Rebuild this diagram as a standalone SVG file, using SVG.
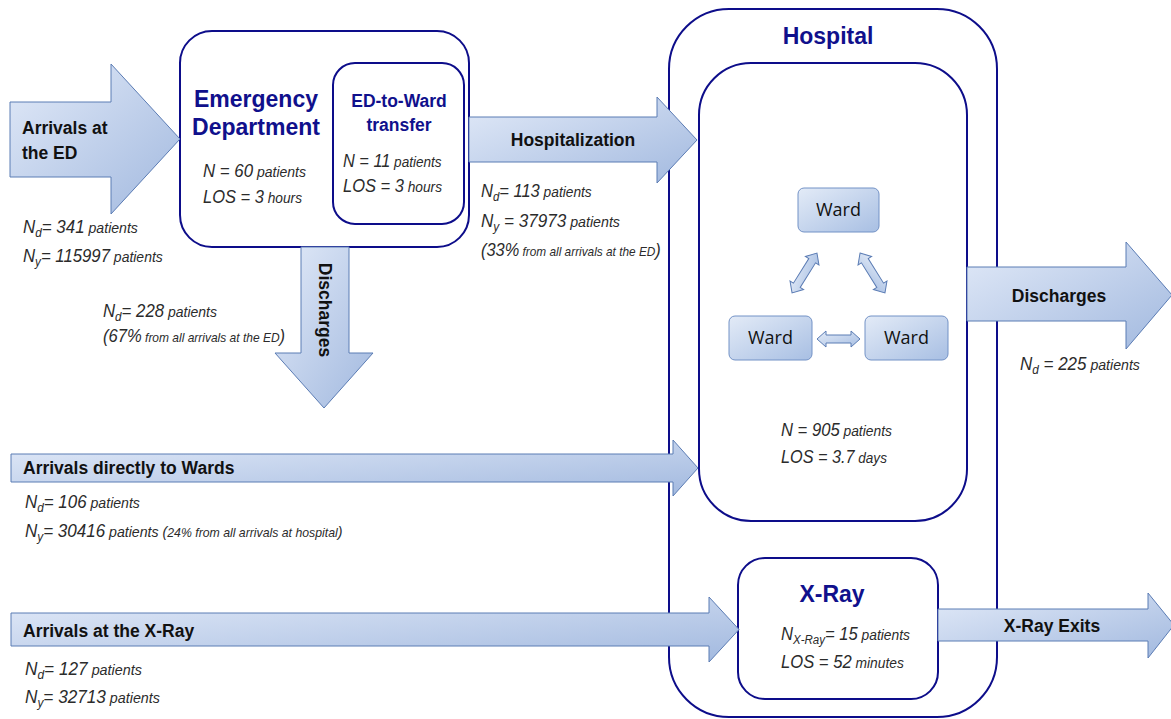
<svg xmlns="http://www.w3.org/2000/svg" width="1171" height="719" viewBox="0 0 1171 719">
<defs>
<linearGradient id="ag" x1="0" y1="0" x2="1" y2="1">
<stop offset="0" stop-color="#e2eaf8"/>
<stop offset="1" stop-color="#a2b9df"/>
</linearGradient>
<linearGradient id="wg" x1="0" y1="0" x2="1" y2="1">
<stop offset="0" stop-color="#e3ebf7"/>
<stop offset="1" stop-color="#a8bfe3"/>
</linearGradient>
<style>
.arrow{fill:url(#ag);stroke:#5b7cb4;stroke-width:1}
.box{fill:#fff;stroke:#0d0d8a;stroke-width:2}
.obox{fill:none;stroke:#0d0d8a;stroke-width:2}
.ward{fill:url(#wg);stroke:#7392c6;stroke-width:1}
.dbl{fill:url(#wg);stroke:#5b7cb4;stroke-width:1}
.lbl{font-family:"Liberation Sans",Arial,sans-serif;font-weight:bold;font-size:17.5px;fill:#111}
.ttl{font-family:"Liberation Sans",Arial,sans-serif;font-weight:bold;font-size:23px;fill:#10108c;text-anchor:middle}
.ttl2{font-family:"Liberation Sans",Arial,sans-serif;font-weight:bold;font-size:17.5px;fill:#10108c;text-anchor:middle}
.wt{font-family:"Open Sans","Liberation Sans",sans-serif;font-size:18px;fill:#111;text-anchor:middle}
.it{font-family:"Liberation Sans",Arial,sans-serif;font-style:italic;fill:#2b2b2b;font-size:18px}
.sm{font-size:15px}
.xs{font-size:13px}
.sub{font-size:12.5px}
</style>
</defs>

<g id="hospital">
<rect class="obox" x="669" y="9" width="328" height="708" rx="60"/>
<text class="ttl" x="828" y="44">Hospital</text>
</g>

<g id="wards-area">
<rect class="box" x="699" y="63" width="268" height="458" rx="52"/>
<text class="it" transform="translate(781,436) scale(0.923,1)">N = 905<tspan class="sm"> patients</tspan></text>
<text class="it" transform="translate(781,463) scale(0.903,1)">LOS = 3.7<tspan class="sm"> days</tspan></text>
</g>

<g id="ward-top">
<rect class="ward" x="798" y="188" width="81" height="44" rx="6"/>
<text class="wt" x="838.5" y="216">Ward</text>
</g>
<g id="ward-left">
<rect class="ward" x="729" y="316" width="83" height="44" rx="6"/>
<text class="wt" x="770.5" y="344">Ward</text>
</g>
<g id="ward-right">
<rect class="ward" x="865" y="316" width="83" height="44" rx="6"/>
<text class="wt" x="906.5" y="344">Ward</text>
</g>

<g id="ed">
<rect class="box" x="180" y="31" width="289" height="216" rx="32"/>
<text class="ttl" x="256" y="107">Emergency</text>
<text class="ttl" x="256" y="135">Department</text>
<text class="it" transform="translate(203,177) scale(0.935,1)">N = 60<tspan class="sm"> patients</tspan></text>
<text class="it" transform="translate(203,203) scale(0.915,1)">LOS = 3<tspan class="sm"> hours</tspan></text>
</g>

<g id="ed-to-ward">
<rect class="box" x="333" y="63" width="131" height="161" rx="22"/>
<text class="ttl2" x="399" y="107">ED-to-Ward</text>
<text class="ttl2" x="399" y="131">transfer</text>
<text class="it" transform="translate(343,167) scale(0.907,1)">N = 11<tspan class="sm"> patients</tspan></text>
<text class="it" transform="translate(343,192) scale(0.915,1)">LOS = 3<tspan class="sm"> hours</tspan></text>
</g>

<g id="xray">
<rect class="box" x="738" y="558" width="200" height="141" rx="27"/>
<text class="ttl" x="832" y="602">X-Ray</text>
<text class="it" transform="translate(781,640) scale(0.922,1)">N<tspan class="sub" dy="4">X-Ray</tspan><tspan dy="-4">= 15</tspan><tspan class="sm"> patients</tspan></text>
<text class="it" transform="translate(781,668) scale(0.923,1)">LOS = 52<tspan class="sm"> minutes</tspan></text>
</g>

<g id="connectors">
<g id="arr-ed">
<polygon class="arrow" points="10,102 111,102 111,64 180,139 111,214 111,177 10,177"/>
<text class="lbl" x="22" y="134">Arrivals at</text>
<text class="lbl" x="22" y="159">the ED</text>
<text class="it" transform="translate(23,233) scale(0.941,1)">N<tspan class="sub" dy="4">d</tspan><tspan dy="-4">= 341</tspan><tspan class="sm"> patients</tspan></text>
<text class="it" transform="translate(23,262) scale(0.931,1)">N<tspan class="sub" dy="4">y</tspan><tspan dy="-4">= 115997</tspan><tspan class="sm"> patients</tspan></text>
</g>
<g id="arr-hosp">
<polygon class="arrow" points="469,117 657,117 657,97 697,140 657,183 657,162 469,162"/>
<text class="lbl" x="573" y="146" text-anchor="middle">Hospitalization</text>
<text class="it" transform="translate(481,197) scale(0.917,1)">N<tspan class="sub" dy="4">d</tspan><tspan dy="-4">= 113</tspan><tspan class="sm"> patients</tspan></text>
<text class="it" transform="translate(481,227) scale(0.949,1)">N<tspan class="sub" dy="4">y</tspan><tspan dy="-4"> = 37973</tspan><tspan class="sm"> patients</tspan></text>
<text class="it" transform="translate(481,256) scale(0.911,1)">(33%<tspan class="xs"> from all arrivals at the ED</tspan>)</text>
</g>
<g id="arr-ed-dis">
<polygon class="arrow" points="301,247 349,247 349,353 373,353 324,408 275,353 301,353"/>
<text class="lbl" transform="translate(325,310) rotate(90)" text-anchor="middle" dominant-baseline="central">Discharges</text>
<text class="it" transform="translate(103,317) scale(0.933,1)">N<tspan class="sub" dy="4">d</tspan><tspan dy="-4">= 228</tspan><tspan class="sm"> patients</tspan></text>
<text class="it" transform="translate(103,342) scale(0.922,1)">(67%<tspan class="xs"> from all arrivals at the ED</tspan>)</text>
</g>
<g id="arr-wards">
<polygon class="arrow" points="11,454 673,454 673,440 698,468 673,496 673,482 11,482"/>
<text class="lbl" x="23" y="474">Arrivals directly to Wards</text>
<text class="it" transform="translate(25,508) scale(0.941,1)">N<tspan class="sub" dy="4">d</tspan><tspan dy="-4">= 106</tspan><tspan class="sm"> patients</tspan></text>
<text class="it" transform="translate(25,537) scale(0.945,1)">N<tspan class="sub" dy="4">y</tspan><tspan dy="-4">= 30416</tspan><tspan class="sm"> patients (</tspan><tspan class="xs">24% from all arrivals at hospital</tspan><tspan class="sm">)</tspan></text>
</g>
<g id="arr-xray">
<polygon class="arrow" points="11,613 709,613 709,597 739,629.5 709,662 709,646 11,646"/>
<text class="lbl" x="23" y="637">Arrivals at the X-Ray</text>
<text class="it" transform="translate(25,675) scale(0.957,1)">N<tspan class="sub" dy="4">d</tspan><tspan dy="-4">= 127</tspan><tspan class="sm"> patients</tspan></text>
<text class="it" transform="translate(25,703) scale(0.954,1)">N<tspan class="sub" dy="4">y</tspan><tspan dy="-4">= 32713</tspan><tspan class="sm"> patients</tspan></text>
</g>
<g id="arr-hosp-dis">
<polygon class="arrow" points="967,267 1126,267 1126,242 1172,295 1126,349 1126,321 967,321"/>
<text class="lbl" x="1059" y="302" text-anchor="middle">Discharges</text>
<text class="it" transform="translate(1020,370) scale(0.943,1)">N<tspan class="sub" dy="4">d</tspan><tspan dy="-4"> = 225</tspan><tspan class="sm"> patients</tspan></text>
</g>
<g id="arr-xray-exit">
<polygon class="arrow" points="938,609 1148,609 1148,593 1174,625 1148,658 1148,641 938,641"/>
<text class="lbl" x="1052" y="632" text-anchor="middle">X-Ray Exits</text>
</g>
<g id="ward-links">
<polygon class="dbl" transform="translate(838.5,339)" points="-21.5,0 -12.5,-8 -12.5,-4 12.5,-4 12.5,-8 21.5,0 12.5,8 12.5,4 -12.5,4 -12.5,8"/>
<polygon class="dbl" transform="translate(804.5,273) rotate(-58)" points="-23.5,0 -14.5,-8 -14.5,-4 14.5,-4 14.5,-8 23.5,0 14.5,8 14.5,4 -14.5,4 -14.5,8"/>
<polygon class="dbl" transform="translate(872.5,273) rotate(58)" points="-23.5,0 -14.5,-8 -14.5,-4 14.5,-4 14.5,-8 23.5,0 14.5,8 14.5,4 -14.5,4 -14.5,8"/>
</g>
</g>
</svg>
